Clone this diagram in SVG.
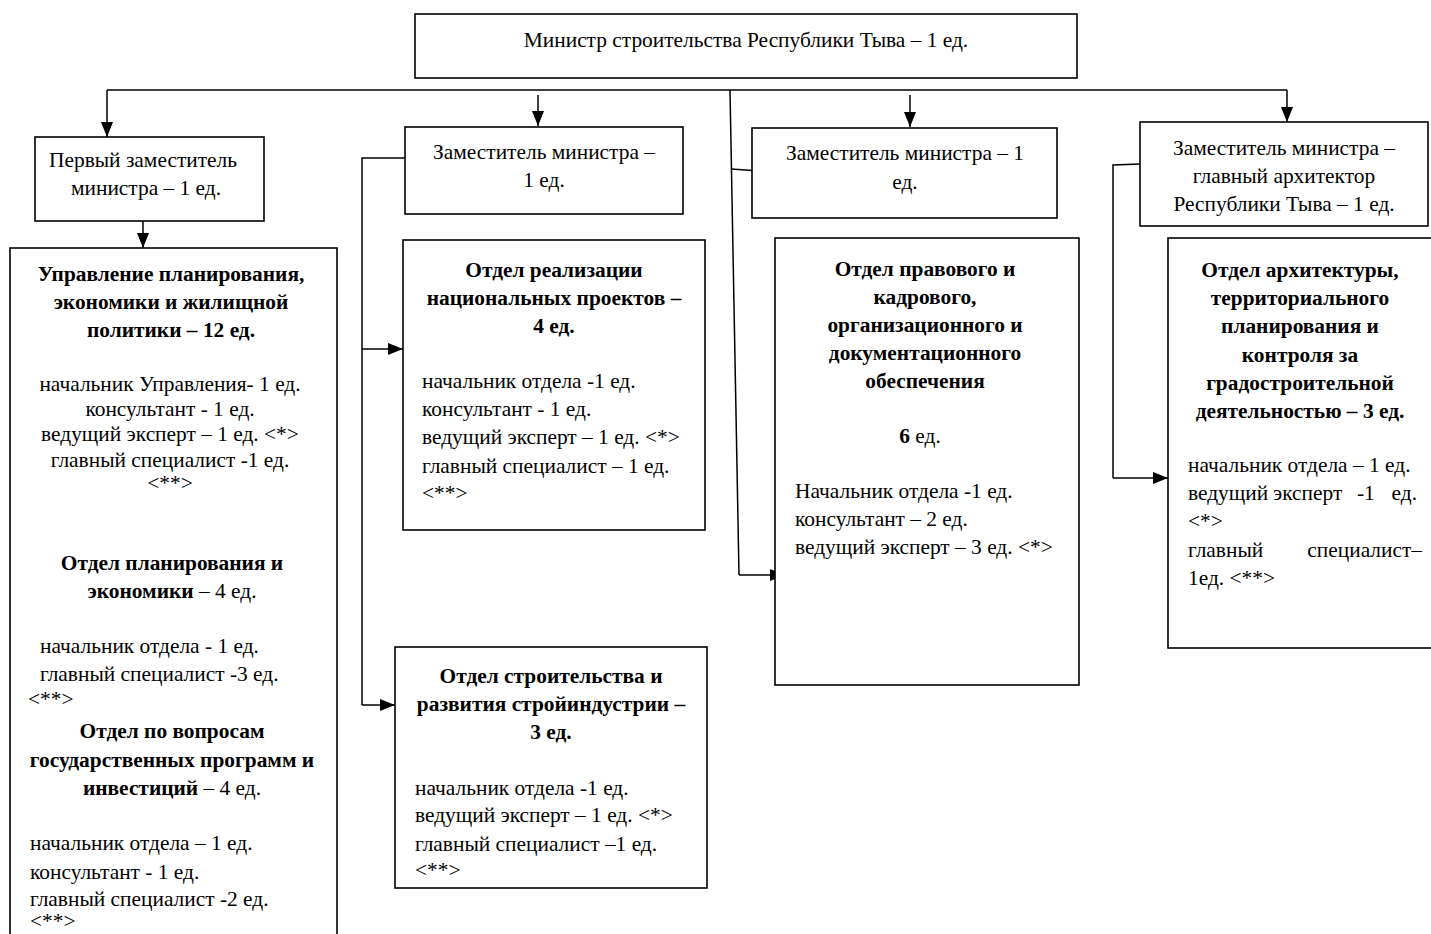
<svg xmlns="http://www.w3.org/2000/svg" width="1431" height="934" viewBox="0 0 1431 934">
<defs>
<marker id="ah" viewBox="0 0 15 12" refX="15" refY="6" markerWidth="15" markerHeight="12" markerUnits="userSpaceOnUse" orient="auto">
<path d="M0,0 L15,6 L0,12 z" fill="#000"/>
</marker>
</defs>
<style>
rect{fill:#fff;stroke:#000;stroke-width:1.6}
.c line,.c path{stroke:#000;stroke-width:1.5;fill:none}
text{font-family:"Liberation Serif","Times New Roman",serif;font-size:21.4px;fill:#000}
.b{font-weight:bold}
.m{text-anchor:middle}
.n{font-weight:normal}
</style>
<rect x="0" y="0" width="1431" height="934" style="fill:#fff;stroke:none"/>
<g class="c">
<line x1="107" y1="90" x2="1287" y2="90"/>
<line x1="107" y1="90" x2="107" y2="137" marker-end="url(#ah)"/>
<line x1="143" y1="221" x2="143" y2="248" marker-end="url(#ah)"/>
<line x1="538" y1="95" x2="538" y2="126" marker-end="url(#ah)"/>
<line x1="910" y1="95" x2="910" y2="127" marker-end="url(#ah)"/>
<line x1="1287" y1="90" x2="1287" y2="122" marker-end="url(#ah)"/>
<path d="M405,158 L362,158 L362,705"/>
<line x1="362" y1="349" x2="403" y2="349" marker-end="url(#ah)"/>
<line x1="362" y1="705" x2="395" y2="705" marker-end="url(#ah)"/>
<path d="M730,90 L739,575"/>
<line x1="731" y1="169" x2="760" y2="171"/>
<line x1="739" y1="575" x2="785" y2="575" marker-end="url(#ah)"/>
<path d="M1140,164 L1113,165 L1113,478"/>
<line x1="1113" y1="478" x2="1168" y2="478" marker-end="url(#ah)"/>
</g>
<g id="minister">
<rect x="415" y="14" width="662" height="64"/>
<text class="m" x="746" y="47">Министр строительства Республики Тыва – 1 ед.</text>
</g>
<g id="first-deputy">
<rect x="35" y="137" width="229" height="84"/>
<text class="m" x="143" y="167">Первый заместитель</text>
<text class="m" x="146" y="195">министра – 1 ед.</text>
</g>
<g id="deputy-2">
<rect x="405" y="127" width="278" height="87"/>
<text class="m" x="544" y="159">Заместитель министра –</text>
<text class="m" x="544" y="187">1 ед.</text>
</g>
<g id="deputy-3">
<rect x="752" y="128" width="305" height="90"/>
<text class="m" x="905" y="160">Заместитель министра – 1</text>
<text class="m" x="905" y="189">ед.</text>
</g>
<g id="deputy-4">
<rect x="1140" y="122" width="288" height="104"/>
<text class="m" x="1284" y="155">Заместитель министра –</text>
<text class="m" x="1284" y="183">главный архитектор</text>
<text class="m" x="1284" y="211">Республики Тыва – 1 ед.</text>
</g>
<g id="upravlenie">
<rect x="10" y="248" width="327" height="700"/>
<text class="m b" x="171" y="281">Управление планирования,</text>
<text class="m b" x="171" y="309">экономики и жилищной</text>
<text class="m b" x="171" y="337">политики – 12 ед.</text>
<text class="m" x="170" y="391">начальник Управления- 1 ед.</text>
<text class="m" x="170" y="416">консультант - 1 ед.</text>
<text class="m" x="170" y="441">ведущий эксперт – 1 ед. &lt;*&gt;</text>
<text class="m" x="170" y="467">главный специалист -1 ед.</text>
<text class="m" x="170" y="490">&lt;**&gt;</text>
<text class="m b" x="172" y="570">Отдел планирования и</text>
<text class="m b" x="172" y="598">экономики<tspan class="n"> – 4 ед.</tspan></text>
<text x="40" y="653">начальник отдела - 1 ед.</text>
<text x="40" y="681">главный специалист -3 ед.</text>
<text x="28" y="706">&lt;**&gt;</text>
<text class="m b" x="172" y="738">Отдел по вопросам</text>
<text class="m b" x="172" y="767">государственных программ и</text>
<text class="m b" x="172" y="795">инвестиций<tspan class="n"> – 4 ед.</tspan></text>
<text x="30" y="850">начальник отдела – 1 ед.</text>
<text x="30" y="879">консультант - 1 ед.</text>
<text x="30" y="906">главный специалист -2 ед.</text>
<text x="30" y="928">&lt;**&gt;</text>
</g>
<g id="otdel-nacproekt">
<rect x="403" y="240" width="302" height="290"/>
<text class="m b" x="554" y="277">Отдел реализации</text>
<text class="m b" x="554" y="305">национальных проектов –</text>
<text class="m b" x="554" y="333">4 ед.</text>
<text x="422" y="388">начальник отдела -1 ед.</text>
<text x="422" y="416">консультант - 1 ед.</text>
<text x="422" y="444">ведущий эксперт – 1 ед. &lt;*&gt;</text>
<text x="422" y="473">главный специалист – 1 ед.</text>
<text x="422" y="500">&lt;**&gt;</text>
</g>
<g id="otdel-stroitelstva">
<rect x="395" y="647" width="312" height="241"/>
<text class="m b" x="551" y="683">Отдел строительства и</text>
<text class="m b" x="551" y="711">развития стройиндустрии –</text>
<text class="m b" x="551" y="739">3 ед.</text>
<text x="415" y="795">начальник отдела -1 ед.</text>
<text x="415" y="822">ведущий эксперт – 1 ед. &lt;*&gt;</text>
<text x="415" y="851">главный специалист –1 ед.</text>
<text x="415" y="877">&lt;**&gt;</text>
</g>
<g id="otdel-pravovogo">
<rect x="775" y="238" width="304" height="447"/>
<text class="m b" x="925" y="276">Отдел правового и</text>
<text class="m b" x="925" y="304">кадрового,</text>
<text class="m b" x="925" y="332">организационного и</text>
<text class="m b" x="925" y="360">документационного</text>
<text class="m b" x="925" y="388">обеспечения</text>
<text class="m b" x="920" y="443">6<tspan class="n"> ед.</tspan></text>
<text x="795" y="498">Начальник отдела -1 ед.</text>
<text x="795" y="526">консультант – 2 ед.</text>
<text x="795" y="554">ведущий эксперт – 3 ед. &lt;*&gt;</text>
</g>
<g id="otdel-arhitektury">
<rect x="1168" y="238" width="270" height="410"/>
<text class="m b" x="1300" y="277">Отдел архитектуры,</text>
<text class="m b" x="1300" y="305">территориального</text>
<text class="m b" x="1300" y="333">планирования и</text>
<text class="m b" x="1300" y="362">контроля за</text>
<text class="m b" x="1300" y="390">градостроительной</text>
<text class="m b" x="1300" y="418">деятельностью – 3 ед.</text>
<text x="1188" y="472">начальник отдела – 1 ед.</text>
<text x="1188" y="500">ведущий</text>
<text x="1273" y="500">эксперт</text>
<text x="1357" y="500">-1</text>
<text x="1417" y="500" style="text-anchor:end">ед.</text>
<text x="1188" y="528">&lt;*&gt;</text>
<text x="1188" y="557">главный</text>
<text x="1422" y="557" style="text-anchor:end">специалист–</text>
<text x="1188" y="585">1ед. &lt;**&gt;</text>
</g>
</svg>
